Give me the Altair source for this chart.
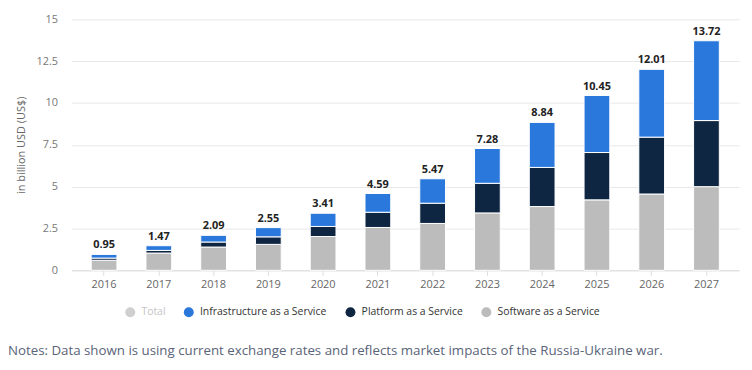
import altair as alt
import pandas as pd

years = ["2016", "2017", "2018", "2019", "2020", "2021", "2022", "2023", "2024", "2025", "2026", "2027"]
totals = [0.95, 1.47, 2.09, 2.55, 3.41, 4.59, 5.47, 7.28, 8.84, 10.45, 12.01, 13.72]
saas = [0.60, 1.03, 1.39, 1.55, 2.02, 2.56, 2.80, 3.43, 3.81, 4.21, 4.56, 5.00]
paas = [0.13, 0.16, 0.30, 0.45, 0.60, 0.91, 1.21, 1.77, 2.34, 2.83, 3.40, 3.95]
iaas = [round(t - s - p, 2) for t, s, p in zip(totals, saas, paas)]

series = ["Total", "Infrastructure as a Service", "Platform as a Service", "Software as a Service"]
colors = ["#cfcfcf", "#2a78dc", "#0f2643", "#bcbcbc"]
y_ticks = [0, 2.5, 5, 7.5, 10, 12.5, 15]
note = "Notes: Data shown is using current exchange rates and reflects market impacts of the Russia-Ukraine war."

rows = []
for i, y in enumerate(years):
    rows.append({"year": y, "series": "Software as a Service", "value": saas[i], "ord": 0})
    rows.append({"year": y, "series": "Platform as a Service", "value": paas[i], "ord": 1})
    rows.append({"year": y, "series": "Infrastructure as a Service", "value": iaas[i], "ord": 2})
df = pd.DataFrame(rows)
tot_df = pd.DataFrame({"year": years, "total": totals, "label": [f"{t:.2f}" for t in totals]})

FONT = "Open Sans"

x_enc = alt.X(
    "year:N",
    title=None,
    sort=years,
    scale=alt.Scale(paddingInner=0.53, paddingOuter=0.36),
    axis=alt.Axis(labelAngle=0, labelFontSize=11, labelColor="#666666", labelPadding=3,
                  domainColor="#dddddd", tickColor="#dddddd", tickSize=5, labelFont=FONT),
)

bars = alt.Chart(df).mark_bar(stroke="white", strokeWidth=1).encode(
    x=x_enc,
    y=alt.Y(
        "value:Q",
        stack="zero",
        title="in billion USD (US$)",
        scale=alt.Scale(domain=[0, 15], nice=False),
        axis=alt.Axis(values=y_ticks, labelExpr="toString(datum.value)", ticks=False, domain=False,
                      labelPadding=14, labelFontSize=11, labelColor="#777777", titleFontSize=11,
                      titleColor="#666666", titleFontWeight="normal", titlePadding=10,
                      gridColor="#e8e8e8", labelFont=FONT, titleFont=FONT),
    ),
    color=alt.Color(
        "series:N",
        scale=alt.Scale(domain=series, range=colors),
        legend=alt.Legend(
            title=None, orient="none", legendX=54, legendY=290, direction="horizontal",
            symbolType="circle", symbolSize=100, symbolStrokeWidth=0, labelFontSize=10.5,
            labelFont=FONT, columnPadding=18, labelOffset=6,
            labelColor={"expr": "datum.label == 'Total' ? '#c4c4c4' : '#333333'"},
        ),
    ),
    order=alt.Order("ord:Q"),
)

labels = alt.Chart(tot_df).mark_text(
    dy=-9, fontSize=11, fontWeight="bold", color="#222222", font=FONT
).encode(
    x=alt.X("year:N", sort=years),
    y=alt.Y("total:Q"),
    text="label:N",
)

notes = alt.Chart(pd.DataFrame({"note": [note]})).mark_text(
    align="left", baseline="middle", fontSize=13.4, color="#5a6478", font=FONT
).encode(
    x=alt.value(-64),
    y=alt.value(334),
    text="note:N",
)

chart = alt.layer(bars, labels, notes).properties(
    width=673, height=253,
    padding={"left": 0, "top": 4, "right": 5, "bottom": 2},
).configure_view(stroke=None)

chart.save("out.html", embed_options={"renderer": "svg", "actions": False})
